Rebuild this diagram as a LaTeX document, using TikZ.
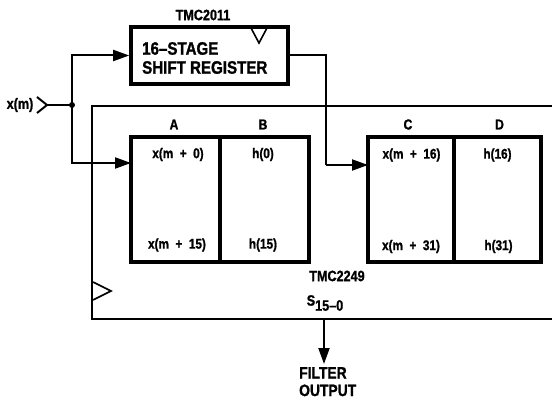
\documentclass[tikz,border=0pt]{standalone}
\usepackage{fontspec}
\setmainfont{Liberation Sans}[FakeStretch=0.84, BoldFeatures={FakeBold=1.2}]
\usetikzlibrary{arrows.meta,calc}
\begin{document}
\begin{tikzpicture}[x=1pt,y=-1pt,
  cell/.style={draw,line width=3.4pt,minimum height=125pt,inner sep=0pt},
  conn/.style={line width=2pt},
  arr/.style={conn,-{Triangle[length=16pt,width=11pt]}},
  chip/.style={font=\bfseries\fontsize{15}{15}\selectfont,inner sep=1pt},
  hdr/.style={font=\bfseries\fontsize{14.5}{14.5}\selectfont,inner sep=1pt},
  txt/.style={font=\bfseries\fontsize{14}{14}\selectfont,inner sep=1pt},
  clk/.style={line width=1.6pt}
]
\useasboundingbox (0,0) rectangle (552,406);

% shift register
\node[draw,line width=3.6pt,minimum width=157pt,minimum height=57pt,inner sep=0pt] (sr) at (209.5,55.5) {};
\node[chip] (t2011) at (203,15) {TMC2011};
\node[font=\bfseries\fontsize{18}{19}\selectfont,align=left,anchor=west,inner sep=1pt] (srtext) at (141,58) {16–STAGE\\SHIFT REGISTER};
\draw[clk] (251,28) -- (259,43) -- (267,28);

% TMC2249 outer box (open to the right)
\draw[line width=2.8pt] (558,106) -- (92,106) -- (92,319) -- (558,319);
\draw[clk] (93,282) -- (111,291) -- (93,300);
\node[chip] (t2249) at (337,276) {TMC2249};

% cells
\node[cell,minimum width=89pt] (A) at (175.5,199.5) {};
\node[cell,minimum width=89pt] (B) at (264.5,199.5) {};
\node[cell,minimum width=86pt] (C) at (411,199.5) {};
\node[cell,minimum width=87pt] (D) at (497.5,199.5) {};

\node[hdr] (la) at (174,124.5) {A};
\node[hdr] (lb) at (263,124.5) {B};
\node[hdr] (lc) at (408,124.5) {C};
\node[hdr] (ld) at (499.5,124.5) {D};

\node[txt] (a0) at (178,154.5) {x(m\ \ +\ \ 0)};
\node[txt] (a15) at (177,245) {x(m\ \ +\ \ 15)};
\node[txt] (b0) at (263,154.5) {h(0)};
\node[txt] (b15) at (263,245) {h(15)};
\node[txt] (c16) at (411.5,155) {x(m\ \ +\ \ 16)};
\node[txt] (c31) at (411,246.5) {x(m\ \ +\ \ 31)};
\node[txt] (d16) at (497.5,155) {h(16)};
\node[txt] (d31) at (498.5,246.5) {h(31)};

% input
\node[chip] (xm) at (20,105) {x(m)};
\draw[conn] (37,97) -- (47,105) -- (37,113);
\coordinate (in) at (47,105);
\coordinate (j) at (72,105);
\coordinate (ain) at (131,163);
\coordinate (cin) at (368,165);
\coordinate (bend) at (326,165);
\draw[conn] (in) -- (j);
\fill (j) circle (3pt);
\draw[arr] (j) |- (sr.west);
\draw[arr] (j) |- (ain);
\draw[conn] (sr.east) -| (bend);
\draw[arr] (bend) -- (cin);

% output
\node[font=\bfseries\fontsize{15}{15}\selectfont] (sum) at (325,303) {S\raisebox{-5pt}{15–0}};
\coordinate (sout) at (324,319);
\node[font=\bfseries\fontsize{16.5}{17.5}\selectfont,align=left,anchor=north west,inner sep=1pt] (fout) at (298,366) {FILTER\\OUTPUT};
\draw[arr] (sout) -- (sout |- 0,364);
\end{tikzpicture}
\end{document}
